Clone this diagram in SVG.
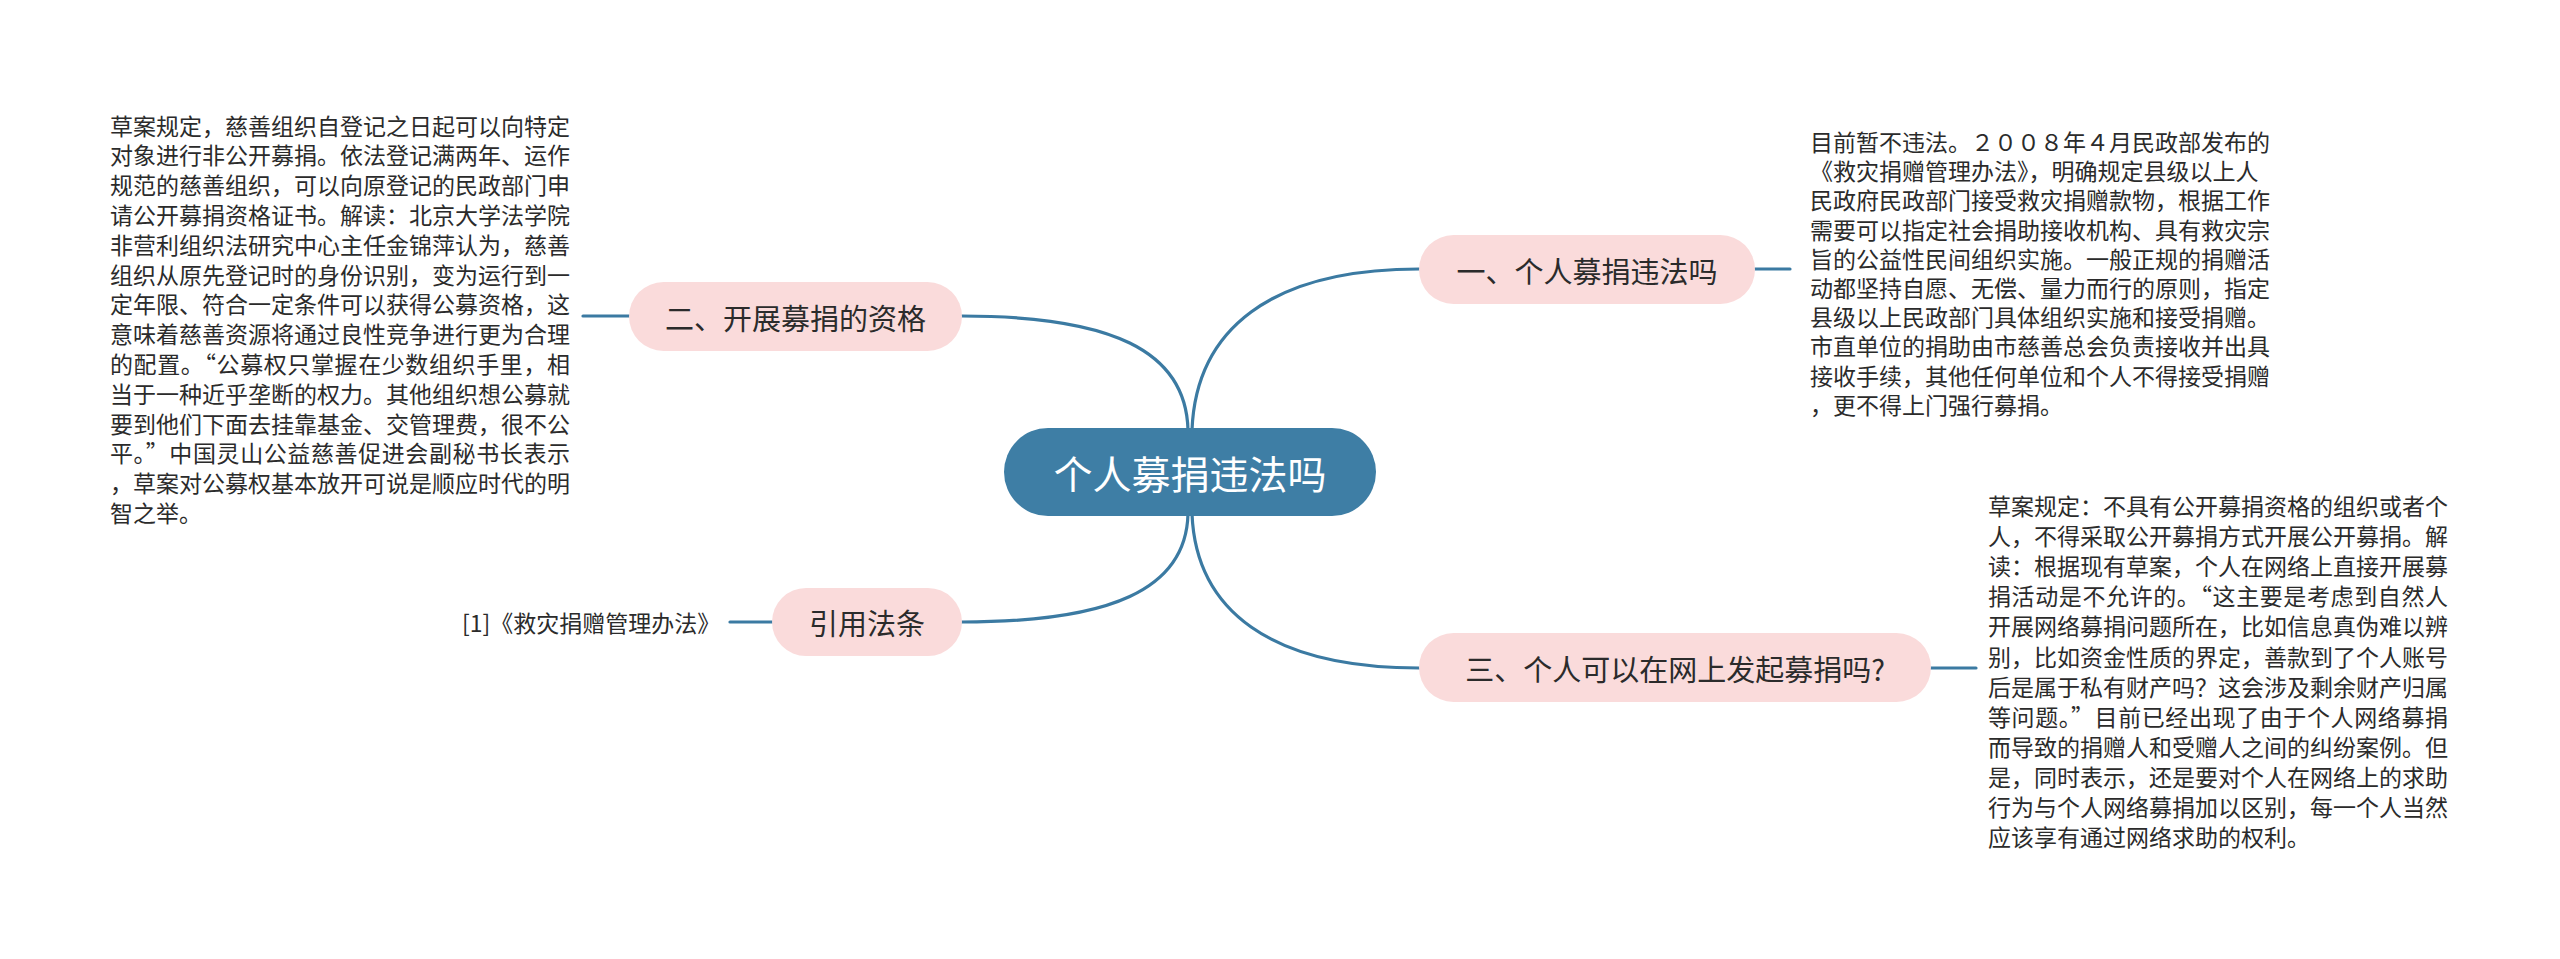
<svg xmlns="http://www.w3.org/2000/svg" width="2560" height="959" viewBox="0 0 2560 959">
<style>
.bg{fill:#ffffff}
.conn{fill:none;stroke:#3b7aa2;stroke-width:3.2;stroke-linecap:round}
.root{fill:#3e7ea5}
.sub{fill:#fadbdb}
.rt{font-family:"Noto Sans CJK SC","Noto Sans",sans-serif;font-size:39px;fill:#ffffff;text-anchor:middle;dominant-baseline:central}
.st{font-family:"Noto Sans CJK SC","Noto Sans",sans-serif;font-size:29px;fill:#2b2b2b;text-anchor:middle;dominant-baseline:central}
.body{font-family:"Noto Sans CJK SC","Noto Sans",sans-serif;font-size:23px;fill:#2b2b2b;dominant-baseline:central}
.fw{font-feature-settings:"fwid" 1}
</style>
<rect class="bg" x="0" y="0" width="2560" height="959"/>
<g id="connectors">
<path class="conn" d="M962,316 C1110,316 1186,350 1188,430"/>
<path class="conn" d="M1192,430 C1196,330 1270,269 1419,269"/>
<path class="conn" d="M1188,514 C1186,590 1110,622 962,622"/>
<path class="conn" d="M1192,514 C1196,610 1270,668 1419,668"/>
<path class="conn" d="M583,316 L629,316"/>
<path class="conn" d="M1755,269 L1790,269"/>
<path class="conn" d="M1931,668 L1976,668"/>
<path class="conn" d="M730,622 L772,622"/>
</g>
<g id="root">
<rect class="root" x="1004" y="428" width="372" height="88" rx="44"/>
<text class="rt" x="1190" y="472">个人募捐违法吗</text>
</g>
<g id="n1">
<rect class="sub" x="1419" y="235" width="336" height="69" rx="34.5"/>
<text class="st" x="1587" y="269.5">一、个人募捐违法吗</text>
</g>
<g id="n2">
<rect class="sub" x="629" y="282" width="333" height="69" rx="34.5"/>
<text class="st" x="795.5" y="316.5">二、开展募捐的资格</text>
</g>
<g id="n3">
<rect class="sub" x="1419" y="633" width="512" height="69" rx="34.5"/>
<text class="st" x="1675" y="667.5">三、个人可以在网上发起募捐吗?</text>
</g>
<g id="n4">
<rect class="sub" x="772" y="588" width="190" height="68" rx="34"/>
<text class="st" x="867" y="622">引用法条</text>
</g>
<g id="n4-ref">
<text class="body" x="462" y="622">[1]《救灾捐赠管理办法》</text>
</g>
<g id="n2-detail">
<text class="body" x="110" y="124.5">草案规定，慈善组织自登记之日起可以向特定</text>
<text class="body" x="110" y="154.3">对象进行非公开募捐。依法登记满两年、运作</text>
<text class="body" x="110" y="184.1">规范的慈善组织，可以向原登记的民政部门申</text>
<text class="body" x="110" y="213.9">请公开募捐资格证书。解读：北京大学法学院</text>
<text class="body" x="110" y="243.7">非营利组织法研究中心主任金锦萍认为，慈善</text>
<text class="body" x="110" y="273.5">组织从原先登记时的身份识别，变为运行到一</text>
<text class="body" x="110" y="303.3">定年限、符合一定条件可以获得公募资格，这</text>
<text class="body" x="110" y="333.1">意味着慈善资源将通过良性竞争进行更为合理</text>
<text class="body" x="110" y="362.9" textLength="460" lengthAdjust="spacing">的配置。<tspan class="fw">“</tspan>公募权只掌握在少数组织手里，相</text>
<text class="body" x="110" y="392.7">当于一种近乎垄断的权力。其他组织想公募就</text>
<text class="body" x="110" y="422.5">要到他们下面去挂靠基金、交管理费，很不公</text>
<text class="body" x="110" y="452.3" textLength="460" lengthAdjust="spacing">平。<tspan class="fw">”</tspan>中国灵山公益慈善促进会副秘书长表示</text>
<text class="body" x="110" y="482.1">，草案对公募权基本放开可说是顺应时代的明</text>
<text class="body" x="110" y="511.9">智之举。</text>
</g>
<g id="n1-detail">
<text class="body" x="1810" y="141">目前暂不违法。２００８年４月民政部发布的</text>
<text class="body" x="1810" y="170.2">《救灾捐赠管理办法》，明确规定县级以上人</text>
<text class="body" x="1810" y="199.4">民政府民政部门接受救灾捐赠款物，根据工作</text>
<text class="body" x="1810" y="228.6">需要可以指定社会捐助接收机构、具有救灾宗</text>
<text class="body" x="1810" y="257.8">旨的公益性民间组织实施。一般正规的捐赠活</text>
<text class="body" x="1810" y="287">动都坚持自愿、无偿、量力而行的原则，指定</text>
<text class="body" x="1810" y="316.2">县级以上民政部门具体组织实施和接受捐赠。</text>
<text class="body" x="1810" y="345.4">市直单位的捐助由市慈善总会负责接收并出具</text>
<text class="body" x="1810" y="374.6">接收手续，其他任何单位和个人不得接受捐赠</text>
<text class="body" x="1810" y="403.8">，更不得上门强行募捐。</text>
</g>
<g id="n3-detail">
<text class="body" x="1988" y="505">草案规定：不具有公开募捐资格的组织或者个</text>
<text class="body" x="1988" y="535.1">人，不得采取公开募捐方式开展公开募捐。解</text>
<text class="body" x="1988" y="565.2">读：根据现有草案，个人在网络上直接开展募</text>
<text class="body" x="1988" y="595.3" textLength="460" lengthAdjust="spacing">捐活动是不允许的。<tspan class="fw">“</tspan>这主要是考虑到自然人</text>
<text class="body" x="1988" y="625.4">开展网络募捐问题所在，比如信息真伪难以辨</text>
<text class="body" x="1988" y="655.5">别，比如资金性质的界定，善款到了个人账号</text>
<text class="body" x="1988" y="685.6">后是属于私有财产吗？这会涉及剩余财产归属</text>
<text class="body" x="1988" y="715.7" textLength="460" lengthAdjust="spacing">等问题。<tspan class="fw">”</tspan>目前已经出现了由于个人网络募捐</text>
<text class="body" x="1988" y="745.8">而导致的捐赠人和受赠人之间的纠纷案例。但</text>
<text class="body" x="1988" y="775.9">是，同时表示，还是要对个人在网络上的求助</text>
<text class="body" x="1988" y="806">行为与个人网络募捐加以区别，每一个人当然</text>
<text class="body" x="1988" y="836.1">应该享有通过网络求助的权利。</text>
</g>
</svg>
